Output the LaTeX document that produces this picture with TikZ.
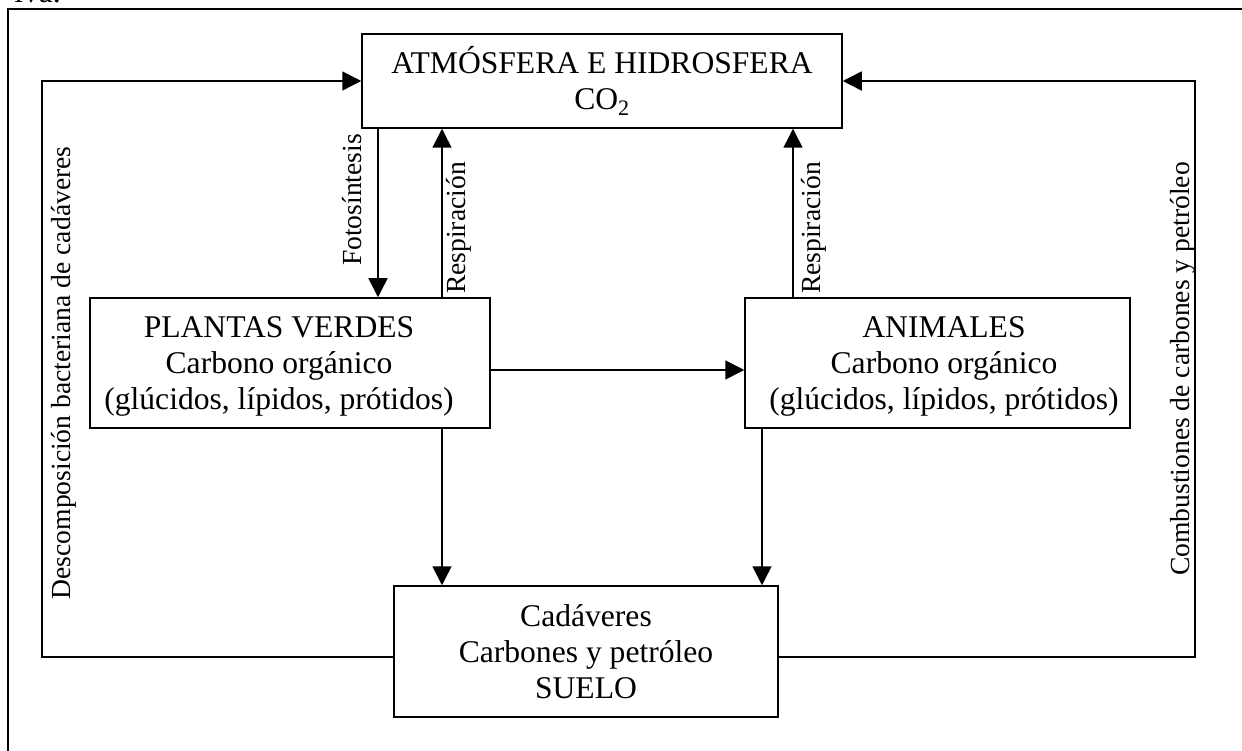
\documentclass[tikz,border=0pt]{standalone}
\usepackage{fontspec}
\setmainfont{Liberation Serif}
\usetikzlibrary{arrows.meta}
\begin{document}
\begin{tikzpicture}[x=1pt,y=-1pt,
  box/.style={draw, line width=1.5pt, inner sep=0pt},
  txt/.style={inner sep=0pt, align=center, font=\fontsize{31.6}{36}\selectfont},
  lbl/.style={rotate=90, inner sep=0pt, font=\fontsize{27.6}{30}\selectfont},
  conn/.style={line width=1.5pt},
  arr/.style={conn, -{Triangle[length=19pt,width=19pt]}}]
\useasboundingbox (0,0) rectangle (1242,751);
\clip (0,0) rectangle (1242,751);
% page frame and cut-off text
\node[txt, anchor=base east] (iva) at (61,3) {iva.};
\draw[line width=2.4pt] (8,770) -- (8,9) -- (1260,9);
% boxes
\node[box, txt, minimum width=480pt, minimum height=94pt] (atm) at (602,81)
  {ATMÓSFERA E HIDROSFERA\\CO\textsubscript{2}};
\node[box, minimum width=400pt, minimum height=130pt] (plant) at (290,363) {};
\node[txt] (planttxt) at (279,366)
  {PLANTAS VERDES\\Carbono orgánico\\(glúcidos, lípidos, prótidos)};
\node[box, minimum width=385pt, minimum height=130pt] (anim) at (937.5,363) {};
\node[txt] (animtxt) at (944,366)
  {ANIMALES\\Carbono orgánico\\(glúcidos, lípidos, prótidos)};
\node[box, txt, minimum width=384pt, minimum height=131pt] (suelo) at (586,651.5)
  {Cadáveres\\Carbones y petróleo\\SUELO};
% helper coordinates
\coordinate (xF) at (378,0);
\coordinate (xR1) at (442,0);
\coordinate (xR2) at (793,0);
\coordinate (xD1) at (442,0);
\coordinate (xD2) at (762,0);
\coordinate (yH) at (0,370);
\coordinate (yB) at (0,657);
\coordinate (xLL) at (42,0);
\coordinate (xLR) at (1195,0);
% connectors
\draw[arr] (atm.south -| xF) -- (plant.north -| xF);
\draw[arr] (plant.north -| xR1) -- (atm.south -| xR1);
\draw[arr] (anim.north -| xR2) -- (atm.south -| xR2);
\draw[arr] (plant.east |- yH) -- (anim.west |- yH);
\draw[arr] (plant.south -| xD1) -- (suelo.north -| xD1);
\draw[arr] (anim.south -| xD2) -- (suelo.north -| xD2);
\draw[arr] (suelo.west |- yB) -- (xLL |- yB) -- (xLL |- atm.west) -- (atm.west);
\draw[arr] (suelo.east |- yB) -- (xLR |- yB) -- (xLR |- atm.east) -- (atm.east);
% labels
\node[lbl] (lfoto) at (352,200) {Fotosíntesis};
\node[lbl] (lresp1) at (459,228) {Respiración};
\node[lbl] (lresp2) at (814,228) {Respiración};
\node[lbl] (ldesc) at (64,373) {Descomposición bacteriana de cadáveres};
\node[lbl] (lcomb) at (1183,369) {Combustiones de carbones y petróleo};
\end{tikzpicture}
\end{document}
